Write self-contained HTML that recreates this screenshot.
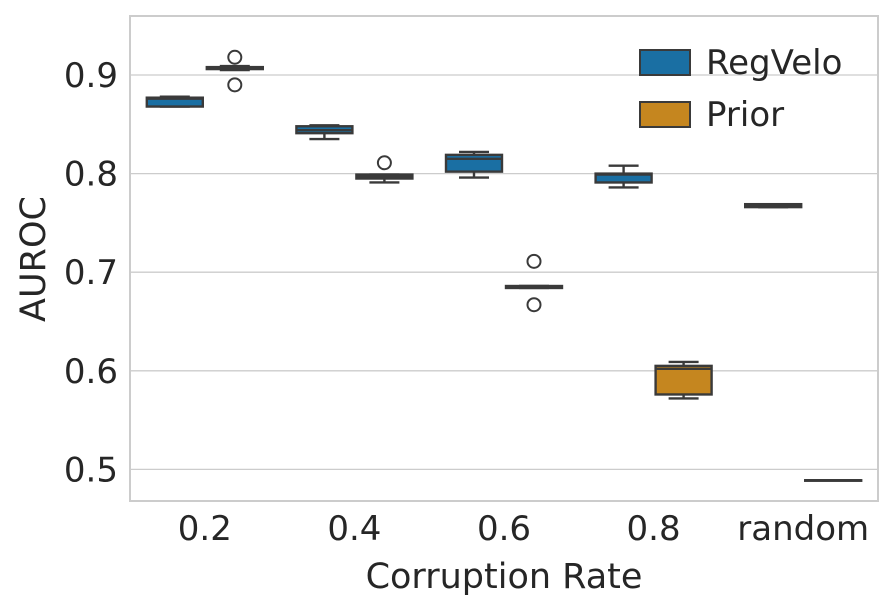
<!DOCTYPE html>
<html><head><meta charset="utf-8"><style>
body{margin:0;background:#fff}
svg{display:block;font-family:"DejaVu Sans","Liberation Sans",sans-serif}
</style></head><body>
<svg id="chart" width="895" height="610"></svg>
<script>
const categories=["0.2","0.4","0.6","0.8","random"];
const seriesNames=["RegVelo","Prior"];
// each: [wmin,q1,med,q3,wmax]
const regveloStats=[[0.868,0.868,0.876,0.877,0.878],[0.835,0.841,0.844,0.848,0.849],[0.796,0.802,0.815,0.819,0.822],[0.786,0.791,0.799,0.800,0.808],[0.766,0.766,0.767,0.769,0.769]];
const priorStats=[[0.905,0.906,0.907,0.908,0.909],[0.791,0.795,0.797,0.799,0.799],[0.684,0.684,0.685,0.686,0.686],[0.572,0.576,0.602,0.605,0.609],[0.489,0.489,0.489,0.489,0.489]];
const regveloOutliers=[[],[],[],[],[]];
const priorOutliers=[[0.918,0.890],[0.811],[0.711,0.667],[],[]];
const yTicks=[0.5,0.6,0.7,0.8,0.9];
const colors=["#1a6fa3","#c5861f"];
const NS="http://www.w3.org/2000/svg";
const svg=document.getElementById("chart");
const L=130,R=878,T=16,B=501;
const y=v=>75+(0.9-v)*986;
const xc=i=>L+(R-L)/categories.length*(i+0.5);
function mk(t,a,p){const e=document.createElementNS(NS,t);for(const k in a)e.setAttribute(k,a[k]);(p||svg).appendChild(e);return e;}
yTicks.forEach(v=>{
  const g=mk("line",{x1:L,x2:R,y1:y(v),y2:y(v),stroke:"#cccccc","stroke-width":1.3});
  
  
  const t=mk("text",{x:L-12,y:y(v)+12,"text-anchor":"end","font-size":34,fill:"#262626"});t.textContent=v.toFixed(1);
  
  
});
categories.forEach((c,i)=>{
  const t=mk("text",{x:xc(i),y:540,"text-anchor":"middle","font-size":34,fill:"#262626"});t.textContent=c;
  
  
});
const all=[regveloStats,priorStats],outs=[regveloOutliers,priorOutliers];
all.forEach((stats,s)=>{stats.forEach((st,i)=>{
  const g=mk("g",{});
  
  
  const x0=xc(i)-60+s*60+1,w=58,cx=x0+w/2;
  const st2={stroke:"#3a3a3a","stroke-width":2.4};
  mk("line",Object.assign({x1:cx,x2:cx,y1:y(st[4]),y2:y(st[3])},st2),g);
  mk("line",Object.assign({x1:cx,x2:cx,y1:y(st[1]),y2:y(st[0])},st2),g);
  mk("line",Object.assign({x1:cx-15,x2:cx+15,y1:y(st[4]),y2:y(st[4])},st2),g);
  mk("line",Object.assign({x1:cx-15,x2:cx+15,y1:y(st[0]),y2:y(st[0])},st2),g);
  mk("rect",Object.assign({x:x0+1,y:y(st[3]),width:w-2,height:Math.max(y(st[1])-y(st[3]),0.5),fill:colors[s]},st2),g);
  mk("line",Object.assign({x1:x0+1,x2:x0+w-1,y1:y(st[2]),y2:y(st[2])},st2),g);
  outs[s][i].forEach(o=>{const c=mk("circle",{cx:cx,cy:y(o),r:6.5,fill:"none",stroke:"#3a3a3a","stroke-width":2},g);
    
    });
});});
const fr=mk("rect",{x:L,y:T,width:R-L,height:B-T,fill:"none",stroke:"#cccccc","stroke-width":2});


seriesNames.forEach((n,s)=>{
  const g=mk("g",{});
  
  
  mk("rect",{x:640,y:50+s*52,width:50,height:25,fill:colors[s],stroke:"#3a3a3a","stroke-width":2},g);
  const t=mk("text",{x:706,y:74+s*52,"font-size":34,fill:"#262626"},g);t.textContent=n;
});
const xt=mk("text",{x:504,y:588,"text-anchor":"middle","font-size":35,fill:"#262626"});xt.textContent="Corruption Rate";


const yt=mk("text",{x:0,y:0,"text-anchor":"middle","font-size":35,fill:"#262626",transform:"translate(45,259) rotate(-90)"});yt.textContent="AUROC";


</script>
</body></html>
